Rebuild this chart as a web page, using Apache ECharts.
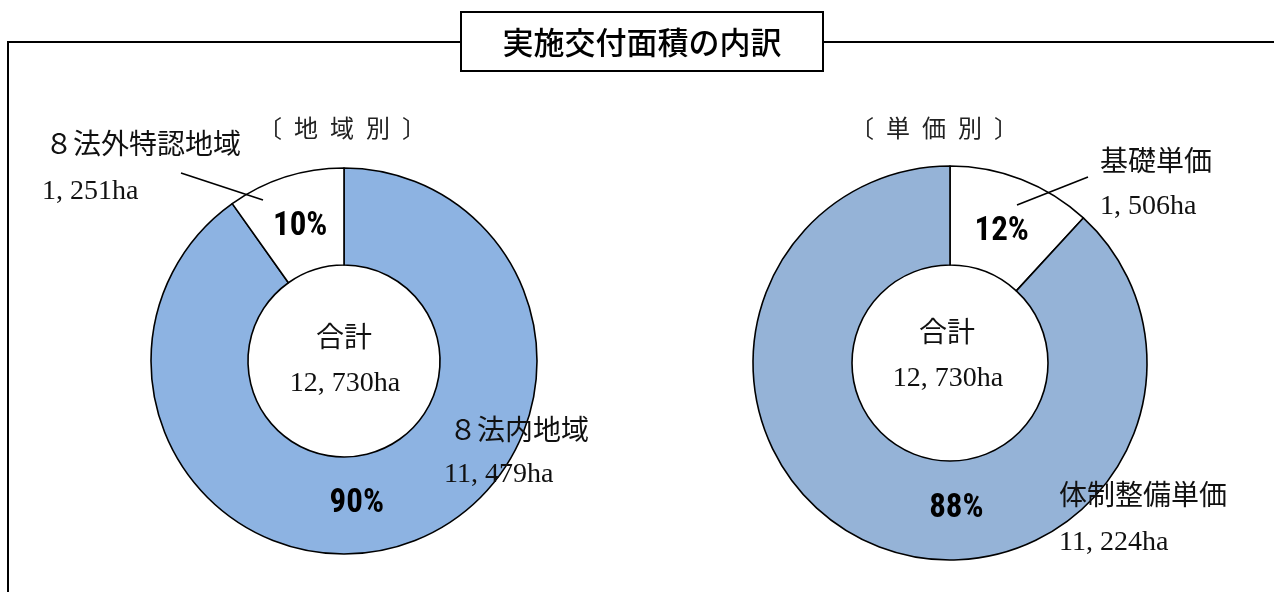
<!DOCTYPE html>
<html>
<head>
<meta charset="utf-8">
<script src="https://cdn.jsdelivr.net/npm/echarts@6/dist/echarts.min.js"></script>
<style>
html,body{margin:0;padding:0;background:#fff;}
#c{width:1274px;height:592px;}
</style>
</head>
<body>
<div id="c"></div>
<script>
// ---- data ----
const chartTitle = '実施交付面積の内訳';
const regionTitle = '〔\u2002地\u2002域\u2002別\u2002〕';
const priceTitle = '〔\u2002単\u2002価\u2002別\u2002〕';
const totalLabel = '合計';
const regionNames = ['８法内地域', '８法外特認地域'];
const regionValues = [11479, 1251];
const priceNames = ['基礎単価', '体制整備単価'];
const priceValues = [1506, 11224];

// ---- styles ----
const JP = '"Liberation Serif", "Noto Sans CJK JP", serif';
const regionColors = ['#8db3e2', '#ffffff'];
const priceColors = ['#ffffff', '#95b3d7'];
const regionLabelOffsets = [[-32, 2], [1, 6]];
const priceLabelOffsets = [[-3, 9], [61, 6]];

function fmt(v) { return v.toLocaleString('en-US').replace(',', ', ') + 'ha'; }
function sum(a) { return a.reduce((s, x) => s + x, 0); }

function pieSeries(names, values, colors, offsets, center, radius) {
  return {
    type: 'pie',
    center: center,
    radius: radius,
    startAngle: 90,
    clockwise: true,
    silent: true,
    animation: false,
    emphasis: { scale: false },
    itemStyle: { borderColor: '#000', borderWidth: 1.6 },
    label: {
      show: true,
      position: 'inside',
      formatter: p => Math.round(p.percent) + '%',
      fontFamily: '"Liberation Sans Narrow", "Roboto Condensed", "DejaVu Sans Condensed", "Open Sans Condensed", "Liberation Sans", sans-serif',
      fontWeight: 'bold',
      fontSize: 33,
      color: '#000'
    },
    labelLine: { show: false },
    data: names.map((n, i) => ({
      name: n, value: values[i],
      itemStyle: { color: colors[i] },
      label: { offset: offsets[i] }
    }))
  };
}

function txt(x, y, s, opts) {
  return {
    type: 'text', x: x, y: y, z: 100,
    style: Object.assign({
      text: s, fill: '#111', font: '28px ' + JP,
      textAlign: 'left', textVerticalAlign: 'middle'
    }, (opts || {}))
  };
}

const chart = echarts.init(document.getElementById('c'), null, { renderer: 'canvas' });
chart.setOption({
  backgroundColor: '#fff',
  animation: false,
  series: [
    pieSeries(regionNames, regionValues, regionColors, regionLabelOffsets, [344, 361], [96, 193]),
    pieSeries(priceNames, priceValues, priceColors, priceLabelOffsets, [950, 363], [98, 197])
  ],
  graphic: [
    // frame
    { type: 'line', z: 90, shape: { x1: 8, y1: 42, x2: 1274, y2: 42 }, style: { stroke: '#000', lineWidth: 2 } },
    { type: 'line', z: 90, shape: { x1: 8, y1: 41, x2: 8, y2: 592 }, style: { stroke: '#000', lineWidth: 2 } },
    { type: 'rect', z: 95, shape: { x: 461, y: 12, width: 362, height: 59 }, style: { fill: '#fff', stroke: '#000', lineWidth: 2 } },
    txt(642, 42, chartTitle, { font: '500 31px "Noto Sans CJK JP", sans-serif', fill: '#000', textAlign: 'center' }),
    // sub titles
    txt(342, 128, regionTitle, { font: '24px "Noto Sans CJK JP", sans-serif', fill: '#222', textAlign: 'center' }),
    txt(934, 128, priceTitle, { font: '24px "Noto Sans CJK JP", sans-serif', fill: '#222', textAlign: 'center' }),
    // leader lines
    { type: 'line', z: 100, shape: { x1: 181, y1: 173, x2: 263, y2: 200 }, style: { stroke: '#000', lineWidth: 1.6 } },
    { type: 'line', z: 100, shape: { x1: 1017, y1: 205, x2: 1088, y2: 177 }, style: { stroke: '#000', lineWidth: 1.6 } },
    // left labels
    txt(45, 147, regionNames[1]),
    txt(42, 192, fmt(regionValues[1])),
    txt(449, 433, regionNames[0]),
    txt(444, 475, fmt(regionValues[0])),
    txt(344, 340, totalLabel, { textAlign: 'center' }),
    txt(345, 384, fmt(sum(regionValues)), { textAlign: 'center' }),
    // right labels
    txt(1100, 164, priceNames[0]),
    txt(1100, 207, fmt(priceValues[0])),
    txt(1059, 498, priceNames[1]),
    txt(1059, 543, fmt(priceValues[1])),
    txt(947, 335, totalLabel, { textAlign: 'center' }),
    txt(948, 379, fmt(sum(priceValues)), { textAlign: 'center' })
  ]
});
</script>
</body>
</html>
